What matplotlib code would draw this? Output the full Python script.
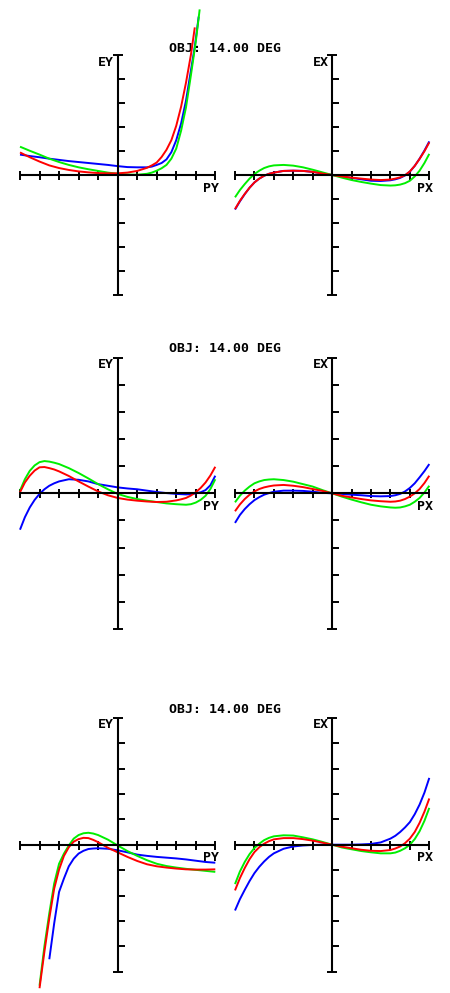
import matplotlib
matplotlib.use("Agg")
import matplotlib.pyplot as plt

# ---------------- data (aberration in scale divisions, pupil -1..1) ----------------
TITLE = "OBJ: 14.00 DEG"
PUPIL = [-1.0, -0.95, -0.9, -0.85, -0.8, -0.75, -0.7, -0.65, -0.6,
         -0.5, -0.4, -0.3, -0.2, -0.1, 0.0, 0.1, 0.2, 0.3, 0.4, 0.5,
         0.6, 0.65, 0.7, 0.75, 0.8, 0.85, 0.9, 0.95, 1.0]

# top row: tangential (EY vs PY)
tl_blue_p = [-1.0, -0.9, -0.8, -0.7, -0.6, -0.5, -0.4, -0.3, -0.2, -0.1, 0.0, 0.1, 0.2, 0.3, 0.35, 0.4,
             0.45, 0.5, 0.55, 0.6, 0.65, 0.7, 0.75, 0.79, 0.83]
tl_blue = [0.85, 0.79, 0.74, 0.68, 0.63, 0.58, 0.54, 0.50, 0.46, 0.42, 0.37, 0.33, 0.32, 0.32, 0.35, 0.42,
           0.50, 0.65, 0.95, 1.45, 2.15, 3.10, 4.35, 5.35, 6.60]
tl_green_p = [-1.0, -0.9, -0.8, -0.7, -0.6, -0.5, -0.4, -0.3, -0.2, -0.1, 0.0, 0.1, 0.2, 0.3, 0.35, 0.4,
              0.45, 0.5, 0.55, 0.6, 0.65, 0.7, 0.75, 0.8, 0.84]
tl_green = [1.18, 1.01, 0.85, 0.68, 0.54, 0.42, 0.32, 0.24, 0.17, 0.10, 0.05, 0.02, 0.01, 0.05, 0.10, 0.18,
            0.28, 0.42, 0.68, 1.10, 1.85, 2.82, 4.15, 5.55, 6.90]
tl_red_p = [-1.0, -0.9, -0.8, -0.7, -0.6, -0.5, -0.4, -0.3, -0.2, -0.1, 0.0, 0.1, 0.2, 0.3, 0.35, 0.4,
            0.45, 0.5, 0.55, 0.6, 0.65, 0.7, 0.75, 0.79]
tl_red = [0.94, 0.74, 0.56, 0.40, 0.29, 0.21, 0.15, 0.11, 0.08, 0.07, 0.07, 0.10, 0.17, 0.30, 0.40, 0.52,
          0.75, 1.05, 1.45, 2.05, 2.85, 3.85, 5.00, 6.15]

# top row: sagittal (EX vs PX)
tr_blue = [-1.44, -1.10, -0.80, -0.53, -0.31, -0.15, -0.03, 0.05, 0.10,
           0.17, 0.18, 0.17, 0.13, 0.06, 0.0, -0.06, -0.12, -0.18, -0.24, -0.25,
           -0.22, -0.18, -0.12, -0.02, 0.14, 0.38, 0.68, 1.02, 1.40]
tr_green = [-0.93, -0.63, -0.38, -0.15, 0.04, 0.18, 0.29, 0.36, 0.40,
            0.42, 0.39, 0.32, 0.22, 0.11, 0.0, -0.11, -0.21, -0.29, -0.36, -0.42,
            -0.44, -0.43, -0.40, -0.34, -0.24, -0.06, 0.18, 0.50, 0.88]
tr_red = [-1.42, -1.08, -0.79, -0.53, -0.31, -0.15, -0.03, 0.05, 0.10,
          0.17, 0.18, 0.17, 0.13, 0.06, 0.0, -0.06, -0.11, -0.15, -0.19, -0.21,
          -0.19, -0.15, -0.10, -0.01, 0.15, 0.38, 0.67, 0.99, 1.36]

# middle row
ml_blue = [-1.34, -0.88, -0.52, -0.24, -0.02, 0.15, 0.28, 0.37, 0.44,
           0.52, 0.50, 0.44, 0.34, 0.28, 0.22, 0.18, 0.15, 0.10, 0.05, 0.01,
           -0.02, -0.03, -0.04, -0.03, 0.0, 0.04, 0.12, 0.30, 0.65]
ml_green = [0.10, 0.52, 0.83, 1.03, 1.15, 1.19, 1.17, 1.13, 1.08,
            0.93, 0.75, 0.55, 0.34, 0.15, -0.02, -0.13, -0.21, -0.27, -0.32, -0.37,
            -0.40, -0.41, -0.42, -0.40, -0.34, -0.24, -0.09, 0.16, 0.52]
ml_red = [0.04, 0.40, 0.65, 0.84, 0.96, 0.97, 0.93, 0.88, 0.81,
          0.64, 0.44, 0.25, 0.07, -0.07, -0.17, -0.23, -0.27, -0.30, -0.32, -0.31,
          -0.26, -0.22, -0.17, -0.08, 0.04, 0.20, 0.40, 0.66, 0.98]

mr_blue = [-1.09, -0.80, -0.58, -0.40, -0.25, -0.14, -0.05, 0.01, 0.06,
           0.10, 0.10, 0.09, 0.06, 0.02, 0.0, -0.02, -0.05, -0.07, -0.10, -0.11,
           -0.10, -0.07, -0.02, 0.07, 0.20, 0.37, 0.59, 0.82, 1.08]
mr_green = [-0.33, -0.09, 0.10, 0.25, 0.37, 0.44, 0.49, 0.51, 0.52,
            0.49, 0.43, 0.34, 0.25, 0.12, 0.0, -0.12, -0.23, -0.33, -0.42, -0.48,
            -0.52, -0.53, -0.52, -0.48, -0.42, -0.31, -0.17, 0.03, 0.28]
mr_red = [-0.66, -0.41, -0.21, -0.05, 0.07, 0.16, 0.22, 0.26, 0.29,
          0.31, 0.28, 0.23, 0.16, 0.09, 0.0, -0.09, -0.15, -0.21, -0.26, -0.29,
          -0.31, -0.30, -0.27, -0.21, -0.12, 0.0, 0.16, 0.38, 0.65]

# bottom row
bl_blue_p = [-0.7, -0.65, -0.6, -0.55, -0.5, -0.45, -0.4, -0.35, -0.3, -0.25, -0.2, -0.1, 0.0,
             0.1, 0.2, 0.3, 0.4, 0.5, 0.6, 0.7, 0.8, 0.9, 1.0]
bl_blue = [-4.51, -3.10, -1.86, -1.33, -0.85, -0.55, -0.35, -0.24, -0.17, -0.15, -0.14, -0.16, -0.22,
           -0.30, -0.39, -0.44, -0.48, -0.51, -0.54, -0.58, -0.63, -0.68, -0.71]
bl_gr_p = [-0.8, -0.75, -0.7, -0.65, -0.6, -0.55, -0.5, -0.45, -0.4, -0.35, -0.3, -0.25, -0.2, -0.1, 0.0,
           0.1, 0.2, 0.3, 0.4, 0.5, 0.6, 0.7, 0.8, 0.9, 1.0]
bl_green = [-5.55, -4.00, -2.70, -1.53, -0.75, -0.35, -0.03, 0.24, 0.38, 0.45, 0.47, 0.44, 0.38, 0.20, -0.03,
            -0.25, -0.44, -0.61, -0.75, -0.84, -0.90, -0.95, -0.99, -1.03, -1.07]
bl_red = [-5.65, -4.21, -2.90, -1.73, -0.98, -0.44, -0.10, 0.12, 0.22, 0.27, 0.26, 0.19, 0.10, -0.12, -0.30,
          -0.48, -0.64, -0.77, -0.85, -0.90, -0.94, -0.97, -0.98, -0.98, -0.97]

br_blue = [-2.59, -2.15, -1.78, -1.43, -1.12, -0.87, -0.66, -0.48, -0.34,
           -0.16, -0.07, -0.03, -0.01, 0.0, 0.0, 0.0, 0.0, 0.01, 0.03, 0.09,
           0.24, 0.35, 0.50, 0.68, 0.89, 1.20, 1.58, 2.05, 2.63]
br_green = [-1.55, -1.06, -0.68, -0.37, -0.13, 0.04, 0.18, 0.27, 0.33,
            0.37, 0.36, 0.29, 0.21, 0.11, 0.0, -0.11, -0.18, -0.25, -0.30, -0.34,
            -0.34, -0.31, -0.24, -0.14, 0.0, 0.22, 0.53, 0.94, 1.45]
br_red = [-1.80, -1.32, -0.92, -0.57, -0.29, -0.10, 0.04, 0.14, 0.21,
          0.26, 0.26, 0.22, 0.16, 0.08, 0.0, -0.08, -0.14, -0.20, -0.24, -0.25,
          -0.21, -0.15, -0.07, 0.06, 0.24, 0.50, 0.86, 1.30, 1.82]

# ---------------- layout ----------------
W, H = 450, 993
fig = plt.figure(figsize=(W / 100, H / 100), dpi=100)
fig.patch.set_facecolor("white")

BLUE, GREEN, RED = "#0000ff", "#00ee00", "#ff0000"
FONT = "DejaVu Sans Mono"
PX2PT = 0.72

rows = [
    (55.0, 295.0, 48.0,
     ((tl_blue_p, tl_blue), (tl_green_p, tl_green), (tl_red_p, tl_red)),
     ((PUPIL, tr_blue), (PUPIL, tr_green), (PUPIL, tr_red))),
    (357.7, 629.0, 349.0,
     ((PUPIL, ml_blue), (PUPIL, ml_green), (PUPIL, ml_red)),
     ((PUPIL, mr_blue), (PUPIL, mr_green), (PUPIL, mr_red))),
    (717.7, 971.7, 709.5,
     ((bl_blue_p, bl_blue), (bl_gr_p, bl_green), (bl_gr_p, bl_red)),
     ((PUPIL, br_blue), (PUPIL, br_green), (PUPIL, br_red))),
]
cols = [(20.0, 215.3, "EY", "PY"), (235.0, 429.3, "EX", "PX")]


def make_panel(x0, x1, y0, y1, ylab, xlab, curves):
    ax = fig.add_axes([x0 / W, 1 - y1 / H, (x1 - x0) / W, (y1 - y0) / H])
    ax.set_xlim(-1, 1)
    ax.set_ylim(-5, 5)
    ax.patch.set_alpha(0)
    for s in ("top", "right"):
        ax.spines[s].set_visible(False)
    ax.spines["left"].set_position(("data", 0))
    ax.spines["bottom"].set_position(("data", 0))
    for s in ("left", "bottom"):
        ax.spines[s].set_linewidth(1.5)
        ax.spines[s].set_capstyle("butt")
    ax.set_xticks([-1.0, -0.8, -0.6, -0.4, -0.2, 0.0, 0.2, 0.4, 0.6, 0.8, 1.0])
    ax.set_yticks([-4, -3, -2, -1, 0, 1, 2, 3, 4])
    ax.set_yticks([-5, 5], minor=True)
    ax.tick_params(axis="x", which="major", direction="inout", length=9 * PX2PT,
                   width=1.4, labelbottom=False)
    ax.tick_params(axis="y", which="major", direction="in", length=6.5 * PX2PT,
                   width=1.4, labelleft=False)
    ax.tick_params(axis="y", which="minor", direction="inout", length=10 * PX2PT,
                   width=1.4)
    for (p, v), c in zip(curves, (BLUE, GREEN, RED)):
        ax.plot(p, v, color=c, lw=1.4, clip_on=False, solid_joinstyle="round",
                solid_capstyle="butt")
    ax.annotate(ylab, xy=(0, 5), xytext=(-3.5 * PX2PT, -7 * PX2PT),
                textcoords="offset points", ha="right", va="center",
                fontsize=9.5, family=FONT, fontweight="bold")
    ax.annotate(xlab, xy=(1, 0), xytext=(3.5 * PX2PT, -13 * PX2PT),
                textcoords="offset points", ha="right", va="center",
                fontsize=9.5, family=FONT, fontweight="bold")
    return ax


for (y0, y1, ty, left_curves, right_curves) in rows:
    for (x0, x1, ylab, xlab), curves in zip(cols, (left_curves, right_curves)):
        make_panel(x0, x1, y0, y1, ylab, xlab, curves)
    fig.text(225.5 / W, 1 - ty / H, TITLE, ha="center", va="center",
             fontsize=9.5, family=FONT, fontweight="bold", zorder=-1)

fig.savefig("out.png", dpi=100, facecolor="white")
